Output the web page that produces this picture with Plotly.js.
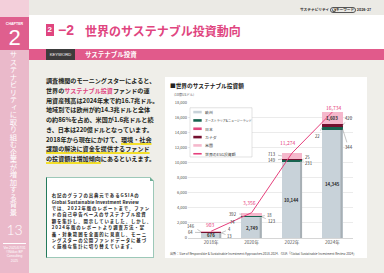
<!DOCTYPE html>
<html lang="ja">
<head>
<meta charset="utf-8">
<script src="https://cdn.plot.ly/plotly-3.0.1.min.js"></script>
<style>
  html, body { margin: 0; padding: 0; width: 384px; height: 273px; overflow: hidden;
    background: #efeee9; font-family: "Noto Sans CJK JP", "Noto Sans", sans-serif; }
  .abs { position: absolute; }
  .body-text div { white-space: nowrap; }
  .mark { text-decoration: underline; text-decoration-color: #f3df2a;
    text-decoration-thickness: 1.6px; text-underline-offset: 0.8px; }
  .note div { height: 6.4px; }
</style>
</head>
<body>
<!-- chapter sidebar -->
<div class="abs" style="left:0;top:0;width:29px;height:273px;background:#eab9ca"></div>
<div class="abs" style="left:0;top:0;width:29px;height:17px;background:#f3cfda"></div>
<div class="abs" style="left:0;top:17px;width:29px;height:33px;background:#df5f8e"></div>
<div class="abs" style="left:0;top:21.5px;width:29px;text-align:center;color:#fff;font-size:3.6px;line-height:4px;font-family:'Liberation Sans';font-weight:700">CHAPTER</div>
<div class="abs" style="left:0;top:26px;width:29px;text-align:center;color:#fff;font-size:22px;line-height:24px;font-family:'Liberation Sans'">2</div>
<div class="abs" style="left:9px;top:51px;writing-mode:vertical-rl;color:#fff;font-size:7.3px;line-height:7.5px;letter-spacing:0.2px">サステナビリティに取り組む企業が増加する背景</div>
<div class="abs" style="left:0;top:222px;width:29px;text-align:center;color:#fff;font-size:14px;line-height:16px;font-family:'Lato';font-weight:300">13</div>
<div class="abs" style="left:3px;top:242.5px;width:23px;height:0.6px;background:#fff"></div>
<div class="abs" style="left:0;top:246px;width:29px;text-align:center;color:#fff;font-size:3.3px;line-height:4.2px;font-family:'Liberation Sans'">Ver.2025/07/31<br>©Nikkei BP<br>Consulting<br>2025</div>

<!-- page header -->
<div class="abs" style="left:29px;top:0;width:355px;height:15px;background:#ebeae5"></div>
<div class="abs" style="left:29px;top:15px;width:355px;height:34px;background:#fff"></div>
<div class="abs" style="left:300px;top:6.5px;font-size:3.7px;line-height:5px;color:#333;white-space:nowrap;font-weight:700">サステナビリティ<span style="display:inline-block;border:0.4px solid #555;border-radius:3px;padding:0 1px;margin:0 0.6px;line-height:4px"><span style="display:inline-block;background:#444;color:#fff;border-radius:50%;width:4px;text-align:center">K</span>キーワード</span>2026-27</div>
<div class="abs" style="left:46px;top:24.3px;width:7.5px;height:11.7px;background:#e0457f;color:#fff;font-size:8px;line-height:11.7px;text-align:center;font-weight:700;font-family:'Liberation Sans'">2</div>
<div class="abs" style="left:58px;top:22px;color:#e0457f;font-size:14px;line-height:17px;font-weight:700;font-family:'Liberation Sans'">−2</div>
<div class="abs" style="left:85px;top:22.5px;color:#e0457f;font-size:12px;line-height:16px;font-weight:700;white-space:nowrap">世界のサステナブル投資動向</div>
<div class="abs" style="left:29px;top:49px;width:355px;height:11px;background:#e15a8b"></div>
<div class="abs" style="left:46px;top:49px;width:29px;height:11px;background:#3d3b3b;color:#fff;font-size:4.2px;line-height:11px;text-align:center;font-family:'Liberation Sans'">KEYWORD</div>
<div class="abs" style="left:85px;top:49px;color:#fff;font-size:6.5px;line-height:11px;font-weight:700;white-space:nowrap">サステナブル投資</div>

<!-- body copy -->
<div class="abs body-text" style="left:46px;top:76.2px;font-size:6.1px;line-height:9.75px;font-weight:700;color:#231f20">
  <div>調査機関のモーニングスターによると、</div>
  <div>世界の<span style="color:#e0457f">サステナブル投資</span>ファンドの運</div>
  <div>用資産残高は2024年末で約16.7兆ドル。</div>
  <div>地域別では欧州が約14.3兆ドルと全体</div>
  <div>の約86%を占め、米国が1.6兆ドルと続</div>
  <div>き、日本は220億ドルとなっています。</div>
  <div>2018年から現在にかけて、<span class="mark">環境・社会</span></div>
  <div><span class="mark">課題の解決に資金を提供するファンド</span></div>
  <div><span class="mark">の投資額は増加傾向</span>にあるといえます。</div>
</div>

<!-- note box -->
<div class="abs" style="left:46px;top:177px;width:108px;height:81px;background:#fff;border:0.5px solid #9cc8b8;border-left:1.6px solid #247a5c;box-sizing:border-box"></div>
<div class="abs" style="left:150px;top:177px;width:0;height:0;border-top:4px solid #efeee9;border-left:4px solid #6fae96"></div>
<div class="abs body-text note" style="left:51.7px;top:192.2px;font-size:4.4px;line-height:6.4px;letter-spacing:0.9px;font-weight:700;color:#222">
  <div>右記のグラフの出典元であるGSIAの</div>
  <div style="letter-spacing:0.12px">Global Sustainable Investment Review</div>
  <div>では、2022年版のレポートまで、ファン</div>
  <div>ドの自己申告ベースのサステナブル投資</div>
  <div>額を集計し、開示していました。しかし、</div>
  <div>2024年版のレポートより調査方法・定</div>
  <div>義・対象範囲を全面的に見直し、モーニ</div>
  <div>ングスターの公開ファンドデータに基づ</div>
  <div>く厳格な集計に切り替えています。</div>
</div>

<!-- chart panel -->
<div id="chart" class="abs" style="left:165px;top:77px;width:202px;height:181px"></div>

<script>
// Sustainable investment assets by region (billion USD)
const years = ['2018年', '2020年', '2022年', '2024年'];
const regionNames = ['欧州', 'オーストラリア&ニュージーランド', '日本', 'カナダ', '米国'];
const europe = [676, 2749, 10144, 14345];
const ausNz = [13, 123, 231, 344];
const japan = [4, 18, 25, 22];
const canada = [64, 74, 149, 420];
const usa = [146, 392, 713, 1603];
const worldTotalName = '世界のESG投資額';
const worldTotal = [903, 3356, 11274, 16734];
const yTickValues = [0, 2000, 4000, 6000, 8000, 10000, 12000, 14000, 16000, 18000];

const chartTitle = '■世界のサステナブル投資額';
const unitLabel = '(10億USドル)';
const sourceNote = '出所：Size of Responsible &amp; Sustainable Investment Approaches 2018-2024、GSIA「Global Sustainable Investment Review 2024」';

const stackSeries = [europe, ausNz, japan, canada, usa];
const seriesColors = ['#c8d2d9', '#17634f', '#e2477f', '#74102f', '#f5b8cc'];
const lineColor = '#e6407c';

// panel geometry (pixels inside the chart div)
const W = 202, H = 181;
const M = { l: 23, r: 14, t: 25.25, b: 20.3 };
const X_RANGE = [-0.574, 3.51];
const Y_RANGE = [0, 18060];
const BAR_W = 0.5;
const plotW = W - M.l - M.r;
const plotH = H - M.t - M.b;
const fx = px => (px - M.l) / plotW;
const fy = py => (H - M.b - py) / plotH;
const dx = v => M.l + (v - X_RANGE[0]) / (X_RANGE[1] - X_RANGE[0]) * plotW;
const dy = v => H - M.b - (v - Y_RANGE[0]) / (Y_RANGE[1] - Y_RANGE[0]) * plotH;
const fmt = v => v.toLocaleString('en-US');

const traces = stackSeries.map((vals, s) => ({
  type: 'bar', name: regionNames[s], x: years, y: vals, width: BAR_W,
  marker: { color: seriesColors[s], line: { width: 0 } }, hoverinfo: 'skip'
}));
traces.push({
  type: 'scatter', mode: 'lines', name: worldTotalName, x: years, y: worldTotal,
  line: { color: lineColor, width: 1 }, hoverinfo: 'skip'
});

// stack bases per year
const base = years.map((_, i) => {
  let acc = 0;
  return stackSeries.map(vals => { const b = acc; acc += vals[i]; return b; });
});
const mid = (i, s) => base[i][s] + stackSeries[s][i] / 2;

const annotations = [];
const shapes = [];

// values printed inside the bars
const insideLabels = [[0, 0], [1, 0], [2, 0], [3, 0], [3, 4]];
insideLabels.forEach(([i, s]) => {
  annotations.push({ x: i, y: mid(i, s), text: '<b>' + fmt(stackSeries[s][i]) + '</b>',
    showarrow: false, font: { size: 4.4, color: '#2a2a2a' } });
});

// small segments labelled beside the bar with leader lines (text position in px)
const sideLabels = [
  { i: 0, s: 4, side: -1, tx: 26.5, ty: 148.5 },
  { i: 0, s: 3, side: -1, tx: 25.5, ty: 155 },
  { i: 0, s: 2, side: 1, tx: 64.5, ty: 152 },
  { i: 0, s: 1, side: 1, tx: 65, ty: 159 },
  { i: 1, s: 4, side: -1, tx: 68.3, ty: 136.3 },
  { i: 1, s: 3, side: -1, tx: 67.7, ty: 145 },
  { i: 1, s: 2, side: 1, tx: 104.3, ty: 137.3 },
  { i: 1, s: 1, side: 1, tx: 106.7, ty: 144 },
  { i: 2, s: 4, side: -1, tx: 107, ty: 77.3 },
  { i: 2, s: 3, side: -1, tx: 107, ty: 83.5 },
  { i: 2, s: 2, side: 1, tx: 143, ty: 79.7 },
  { i: 2, s: 1, side: 1, tx: 144.5, ty: 86.5 },
  { i: 3, s: 3, side: 1, tx: 183.5, ty: 40.7 },
  { i: 3, s: 2, side: -1, tx: 152.5, ty: 58.7 },
  { i: 3, s: 1, side: 1, tx: 183.5, ty: 70.5 }
];
sideLabels.forEach(({ i, s, side, tx, ty }) => {
  const x = i + side * BAR_W / 2;
  const y = mid(i, s);
  annotations.push({ x, y, text: fmt(stackSeries[s][i]), showarrow: true,
    arrowhead: 0, arrowwidth: 0.5, arrowcolor: '#8a8a8a', standoff: 0, startstandoff: 0.5,
    ax: tx - dx(x), ay: ty - dy(y), font: { size: 4.2, color: '#333' } });
});

// world total labels above the line
const totalLabelPos = [[45.7, 147.3], [85, 125.7], [122.7, 66], [168.3, 30.7]];
worldTotal.forEach((v, i) => {
  const [tx, ty] = totalLabelPos[i];
  annotations.push({ x: i, y: v, text: fmt(v), showarrow: false,
    xshift: tx - dx(i), yshift: dy(v) - ty, font: { size: 5, color: lineColor } });
});

// darker edge on the right of the Europe bars
europe.forEach((v, i) => {
  shapes.push({ type: 'rect', xref: 'x', yref: 'y', layer: 'above',
    x0: i + BAR_W / 2 - 0.05, x1: i + BAR_W / 2, y0: 0, y1: v,
    fillcolor: '#a7afb4', line: { width: 0 } });
});

// legend panel
shapes.push({ type: 'rect', xref: 'paper', yref: 'paper', layer: 'above',
  x0: fx(25), x1: fx(87), y0: fy(80), y1: fy(31),
  fillcolor: '#fff', line: { color: '#c4c4c4', width: 0.5 } });
const legendNames = regionNames.concat([worldTotalName]);
const legendColors = seriesColors.concat([lineColor]);
legendNames.forEach((name, k) => {
  const py = 35.3 + k * 8.3;
  shapes.push({ type: 'line', xref: 'paper', yref: 'paper', layer: 'above',
    x0: fx(28.3), x1: fx(36.7), y0: fy(py), y1: fy(py),
    line: { color: legendColors[k], width: k === 5 ? 1.6 : 2.6 } });
  annotations.push({ xref: 'paper', yref: 'paper', x: fx(38), y: fy(py), text: name,
    xanchor: 'left', yanchor: 'middle', showarrow: false,
    font: { size: name.length > 10 ? 3.0 : 3.9, color: '#333' } });
});

// panel title, unit and source
annotations.push({ xref: 'paper', yref: 'paper', x: fx(3), y: fy(8.7), text: '<b>' + chartTitle + '</b>',
  xanchor: 'left', yanchor: 'middle', showarrow: false, font: { size: 5.7, color: '#222' } });
annotations.push({ xref: 'paper', yref: 'paper', x: fx(7), y: fy(17.3), text: unitLabel,
  xanchor: 'left', yanchor: 'middle', showarrow: false, font: { size: 3.3, color: '#555' } });
annotations.push({ xref: 'paper', yref: 'paper', x: fx(3), y: fy(176.5), text: sourceNote,
  xanchor: 'left', yanchor: 'middle', showarrow: false, font: { size: 3.1, color: '#444' } });

const layout = {
  width: W, height: H, margin: M, autosize: false,
  paper_bgcolor: '#fff', plot_bgcolor: '#fff',
  barmode: 'stack', showlegend: false,
  font: { family: '"Noto Sans CJK JP", "Noto Sans", sans-serif', size: 4.2, color: '#444' },
  xaxis: { type: 'category', range: X_RANGE, showgrid: false, showline: false, zeroline: false,
    ticks: '', tickfont: { size: 4.6, color: '#555' } },
  yaxis: { range: Y_RANGE, tickvals: yTickValues, tickformat: ',d', ticks: '',
    gridcolor: '#dedede', gridwidth: 0.6, zeroline: true, zerolinecolor: '#c4c4c4', zerolinewidth: 0.7,
    showline: false, tickfont: { size: 4, color: '#555' } },
  annotations, shapes
};

Plotly.newPlot('chart', traces, layout, { staticPlot: true, displayModeBar: false });
</script>
</body>
</html>
